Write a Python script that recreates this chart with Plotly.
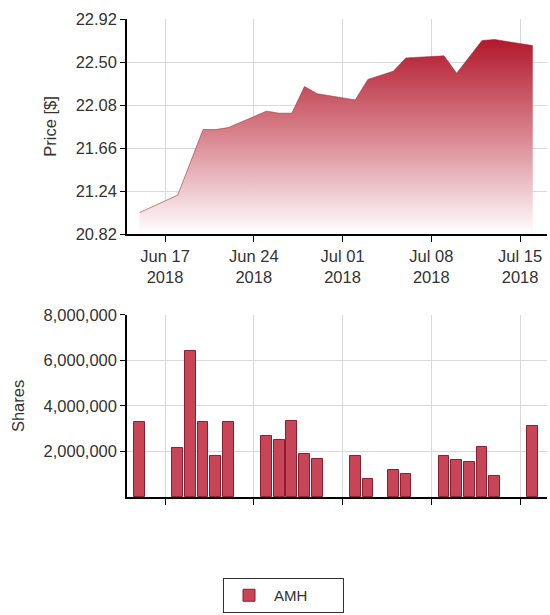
import plotly.graph_objects as go
from plotly.subplots import make_subplots

dates = ["2018-06-15", "2018-06-18", "2018-06-19", "2018-06-20", "2018-06-21", "2018-06-22",
         "2018-06-25", "2018-06-26", "2018-06-27", "2018-06-28", "2018-06-29",
         "2018-07-02", "2018-07-03", "2018-07-05", "2018-07-06",
         "2018-07-09", "2018-07-10", "2018-07-11", "2018-07-12", "2018-07-13",
         "2018-07-16"]
price = [21.03, 21.20, 21.52, 21.84, 21.84, 21.86,
         22.02, 22.00, 22.00, 22.26, 22.19,
         22.13, 22.33, 22.41, 22.54,
         22.56, 22.39, 22.55, 22.71, 22.72,
         22.66]
volume = [3300000, 2150000, 6400000, 3290000, 1810000, 3290000,
          2690000, 2490000, 3360000, 1870000, 1680000,
          1810000, 790000, 1200000, 1010000,
          1810000, 1610000, 1540000, 2220000, 940000,
          3100000]
price_ticks = [20.82, 21.24, 21.66, 22.08, 22.50, 22.92]
volume_ticks = [2000000, 4000000, 6000000, 8000000]
x_range = ["2018-06-14", "2018-07-17 03:00"]
series_name = "AMH"

FONT = "Liberation Sans, Arial, sans-serif"
TXT = "#333333"
GRID = "#d9d9d9"

fig = make_subplots(rows=2, cols=1, shared_xaxes=False, vertical_spacing=0.1)

fig.add_trace(go.Scatter(
    x=dates, y=price, mode="lines", fill="tozeroy",
    line=dict(color="rgba(150,40,55,0.55)", width=1),
    fillgradient=dict(type="vertical",
                      colorscale=[[0, "rgba(255,255,255,1)"], [0.5, "#d98690"], [1, "#b2182b"]],
                      start=price_ticks[0], stop=max(price)),
    showlegend=False, hoverinfo="x+y", name=series_name), row=1, col=1)

fig.add_trace(go.Bar(
    x=dates, y=volume, name=series_name,
    width=0.85 * 86400000,
    marker=dict(color="#c74556", line=dict(color="#8a1f30", width=1)),
    showlegend=True), row=2, col=1)

common_x = dict(type="date", range=x_range, tick0="2018-06-17", dtick=7 * 86400000,
                showgrid=True, gridcolor=GRID, gridwidth=1,
                showline=True, linecolor="#000000", linewidth=1.5,
                ticks="outside", ticklen=6, tickcolor="#000000",
                tickfont=dict(family=FONT, size=16.5, color=TXT), zeroline=False)

fig.update_xaxes(**common_x, tickformat="%b %d<br>%Y", row=1, col=1)
fig.update_xaxes(**common_x, showticklabels=False, row=2, col=1)

fig.update_yaxes(range=[price_ticks[0], price_ticks[-1]], tickvals=price_ticks,
                 tickformat=".2f", showgrid=True, gridcolor=GRID,
                 showline=True, linecolor="#000000", linewidth=1.5,
                 ticks="outside", ticklen=5, tickcolor="#000000",
                 tickfont=dict(family=FONT, size=16.5, color=TXT), zeroline=False,
                 title=dict(text="Price [$]", font=dict(family=FONT, size=16.5, color=TXT)),
                 row=1, col=1)
fig.update_yaxes(range=[0, volume_ticks[-1]], tickvals=volume_ticks,
                 tickformat=",d", showgrid=True, gridcolor=GRID,
                 showline=True, linecolor="#000000", linewidth=1.5,
                 ticks="outside", ticklen=5, tickcolor="#000000",
                 tickfont=dict(family=FONT, size=16.5, color=TXT), zeroline=False,
                 title=dict(text="Shares", font=dict(family=FONT, size=16.5, color=TXT)),
                 row=2, col=1)

fig.update_layout(
    width=550, height=615,
    margin=dict(l=127, r=3, t=19, b=118, autoexpand=False),
    paper_bgcolor="white", plot_bgcolor="white",
    bargap=0,
    font=dict(family=FONT, size=16.5, color=TXT),
    yaxis=dict(domain=[0.5502, 1.0]),
    yaxis2=dict(domain=[0.0, 0.3808]),
    legend=dict(orientation="h", xref="container", yref="container",
                x=223 / 550, xanchor="left", y=1 - 578 / 615, yanchor="top",
                bordercolor="#333333", borderwidth=1, bgcolor="white",
                itemwidth=40, entrywidth=64,
                font=dict(family=FONT, size=15, color=TXT)),
)

fig.write_html("out.html", config={"displayModeBar": False},
               post_script="document.body.style.margin='0';document.body.style.padding='0';")
